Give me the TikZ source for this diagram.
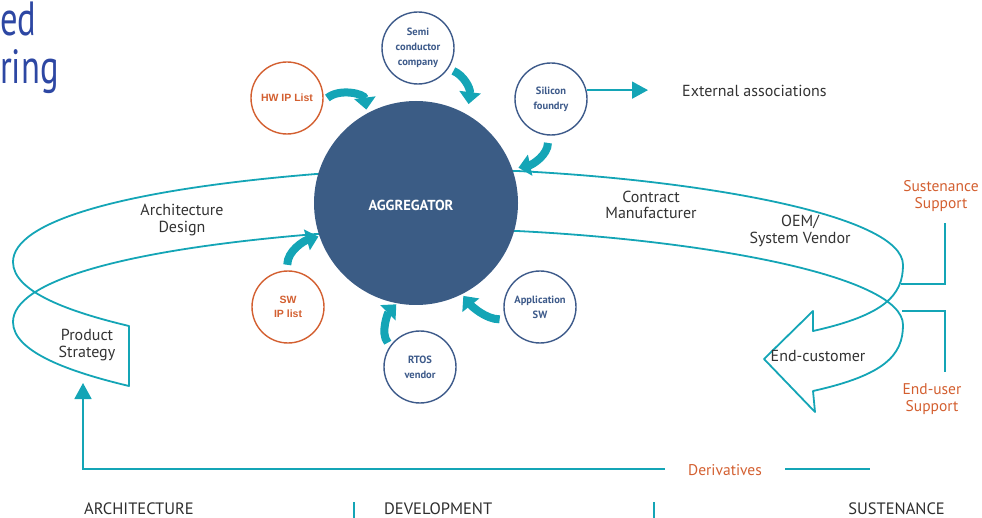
\documentclass[tikz,border=0pt]{standalone}
\usepackage{fontspec}
\setmainfont{PT Sans}
\newfontfamily\arialfont{Liberation Sans}
\newfontfamily\titlefont{PT Sans}[FakeStretch=0.72]
\usetikzlibrary{arrows.meta,calc}

\definecolor{flow}{HTML}{14A5B6}
\definecolor{hub}{HTML}{3B5C85}
\definecolor{partner}{HTML}{3D5A8A}
\definecolor{accent}{HTML}{D35F30}
\definecolor{ink}{HTML}{333333}
\definecolor{heading}{HTML}{2D47A3}

\tikzset{
  band/.style={draw=flow, line width=1.8pt, line join=round},
  partnerbox/.style={circle, draw=partner, line width=1.4pt, minimum size=72pt,
    inner sep=0pt, align=center, text=partner, fill=white,
    font=\bfseries\fontsize{10.5}{15}\selectfont},
  listbox/.style={partnerbox, draw=accent, text=accent,
    font=\arialfont\bfseries\fontsize{10.5}{14}\selectfont},
  feed/.style={draw=flow, line width=8pt, -{Triangle[width=21pt,length=12pt]}},
  pointer/.style={draw=flow, line width=1.8pt, -{Triangle[width=17pt,length=16pt]}},
  rule/.style={draw=flow, line width=1.8pt},
  stage/.style={text=ink, align=center, font=\fontsize{16}{16.5}\selectfont},
  support/.style={text=accent, align=center, font=\fontsize{15.5}{16.5}\selectfont},
  phase/.style={text=ink!90!black, inner sep=0pt, font=\fontsize{16.5}{17}\selectfont},
  headline/.style={text=heading, inner sep=0pt, font=\titlefont\fontsize{48}{52}\selectfont}
}

\begin{document}
\begin{tikzpicture}[x=1pt,y=-1pt]
\useasboundingbox (0,0) rectangle (982,518);

% title fragments at the left edge
\node[headline, anchor=base west] (titleA) at (0,36) {ed};
\node[headline, anchor=base west] (titleB) at (0,84) {ring};

% the life-cycle ribbon (two parallel edges, 60 apart)
\draw[band] (129,326) .. controls (70,312) and (13,292) .. (13,262)
  .. controls (13,222) and (120,190) .. (316,174) -- (517,171)
  .. controls (700,180) and (903,215) .. (903,265)
  .. controls (903,295) and (885,315) .. (813,331)
  -- (813,311) -- (764,359) -- (815,412) -- (813,391)
  .. controls (885,375) and (903,355) .. (903,325)
  .. controls (903,275) and (700,240) .. (517,231) -- (316,234)
  .. controls (120,250) and (13,282) .. (13,322)
  .. controls (13,352) and (70,372) .. (129,386) -- cycle;

% central hub
\node[circle, fill=hub, minimum size=204pt, inner sep=0pt] (agg) at (416,203) {};
\node[text=white, font=\bfseries\fontsize{14.5}{16}\selectfont] (aggtext) at (411,205) {AGGREGATOR};

% partner circles
\node[listbox]    (hw)   at (287,98)  {HW IP List};
\node[partnerbox] (semi) at (418,48)  {Semi\\conductor\\company};
\node[partnerbox] (sil)  at (551,99)  {Silicon\\foundry};
\node[listbox]    (sw)   at (288,307) {SW\\IP list};
\node[partnerbox] (rtos) at (420,367) {RTOS\\vendor};
\node[partnerbox] (app)  at (540,307) {Application\\SW};

% thick feeds into the hub
\draw[feed] ($(hw.center)!1.1!(hw.0)$) .. controls +(12,-10) and +(-2,-16) .. ($(agg.center)!1.035!(agg.118)$);
\draw[feed] ($(semi.center)!1.15!(semi.-33)$) .. controls +(10,4) and +(2,-16) .. ($(agg.center)!1.096!(agg.62)$);
\draw[feed] ($(sil.center)!1.2!(sil.266)$) .. controls +(0,12) and +(14,-3) .. ($(agg.center)!1.06!(agg.19)$);
\draw[feed] ($(sw.center)!1.15!(sw.91)$) .. controls +(0,-14) and +(-14,4) .. ($(agg.center)!1.01!(agg.199)$);
\draw[feed] ($(rtos.center)!1.1!(rtos.143)$) .. controls +(-8,-10) and +(-8,8) .. ($(agg.center)!1.01!(agg.259)$);
\draw[feed] ($(app.center)!1.15!(app.197)$) .. controls +(-14,0) and +(8,10) .. ($(agg.center)!1.02!(agg.297)$);

% external associations
\node[text=ink, inner sep=0pt, anchor=west, font=\fontsize{16}{17}\selectfont] (ext) at (682,91) {External associations};
\draw[pointer, shorten >=34pt] (sil.14) -- (sil.14 -| ext.west);

% stage labels along the ribbon
\node[stage] (arch) at (182,220) {Architecture\\Design};
\node[stage] (prod) at (87,345) {Product\\Strategy};
\node[stage] (cm)   at (651,205) {Contract\\Manufacturer};
\node[stage] (oem)  at (800,231) {OEM/\\System Vendor};
\node[stage] (endc) at (818,356) {End-customer};

% support brackets
\node[support] (sust) at (941,196) {Sustenance\\Support};
\node[support] (enduser) at (932,399) {End-user\\Support};
\coordinate (sustfoot) at (901,284);
\coordinate (userfoot) at (902,311);
\draw[rule] (sustfoot) -- (945,284) -- (945,223);
\draw[rule] (userfoot) -- (945,311) -- (945,372);

% derivatives feedback line
\node[support, inner xsep=23pt] (deriv) at (725,470) {Derivatives};
\coordinate (drvend) at (870,469);
\coordinate (drvcorner) at (83,469);
\coordinate (strategytip) at (83,383);
\draw[rule] (deriv.east |- drvend) -- (drvend);
\draw[pointer] (deriv.west |- drvcorner) -- (drvcorner) -- (strategytip);

% phase captions
\node[phase, anchor=west] (ph1) at (84,509) {ARCHITECTURE};
\node[phase, anchor=west] (ph2) at (384,509) {DEVELOPMENT};
\node[phase, anchor=east] (ph3) at (945,509) {SUSTENANCE};
\coordinate (div1) at (354,502);
\coordinate (div2) at (654,502);
\draw[rule] (div1) -- (354,518);
\draw[rule] (div2) -- (654,518);
\end{tikzpicture}
\end{document}
